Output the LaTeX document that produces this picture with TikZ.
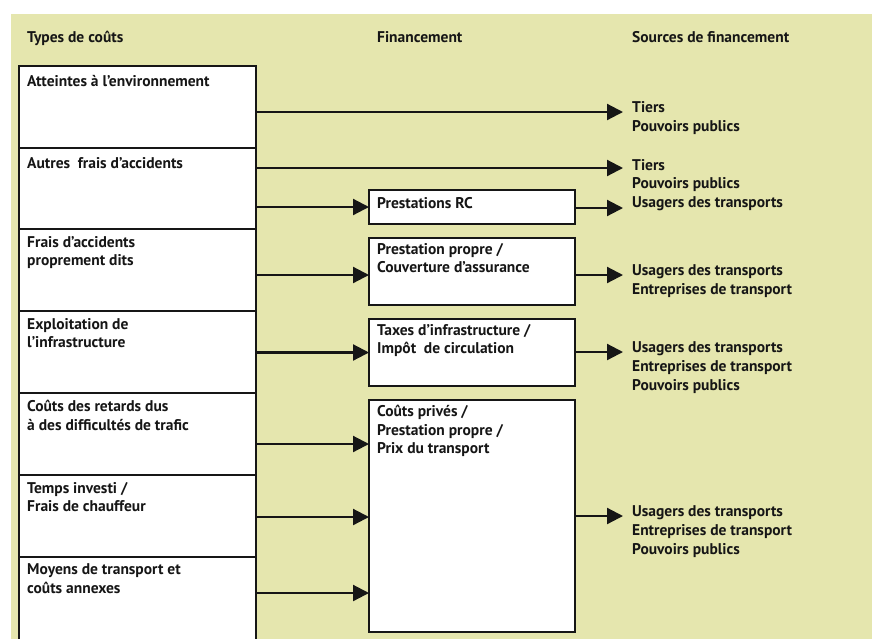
\documentclass[tikz,border=0pt]{standalone}
\usepackage{fontspec}
\setmainfont{PT Sans}
\usetikzlibrary{arrows.meta,calc}
\definecolor{panel}{RGB}{229,230,174}
\definecolor{ink}{RGB}{22,22,22}
\begin{document}
\begin{tikzpicture}[x=1pt,y=-1pt,
  % a label is placed at the baseline of its first line
  lbl/.style={font=\bfseries\fontsize{15.5}{18.8}\selectfont, text=ink, inner sep=0pt, align=left,
    anchor=north west, yshift=13.16pt, execute at begin node={\strut}},
  costbox/.style={draw=ink, fill=white, line width=2.2pt, minimum width=237pt, minimum height=82pt, anchor=north west, inner sep=0pt, outer sep=0pt},
  finbox/.style={draw=ink, fill=white, line width=2.2pt, minimum width=206pt, anchor=north west, inner sep=0pt, outer sep=0pt},
  flow/.style={draw=ink, line width=2.2pt, -{Triangle[length=16pt,width=16pt]}}
]
\useasboundingbox (0,0) rectangle (872,638);
\clip (0,0) rectangle (872,638);
\fill[panel] (11,14) rectangle (873,639);

% column headings
\node[lbl] (h1) at (27,42) {Types de coûts};
\node[lbl] (h2) at (377,42) {Financement};
\node[lbl] (h3) at (632,42) {Sources de financement};

% cost types
\node[costbox] (c1) at (19,66) {};
\node[costbox, minimum height=81pt] (c2) at (19,148) {};
\node[costbox] (c3) at (19,229) {};
\node[costbox] (c4) at (19,311) {};
\node[costbox] (c5) at (19,393) {};
\node[costbox] (c6) at (19,475) {};
\node[costbox, minimum height=86pt] (c7) at (19,557) {};

\node[lbl] (c1t) at ($(c1.north west)+(8,20)$) {Atteintes à l’environnement};
\node[lbl] (c2t) at ($(c2.north west)+(8,20)$) {Autres\hspace{0.5em}frais d’accidents};
\node[lbl] (c3t) at ($(c3.north west)+(8,20)$) {Frais d’accidents\\proprement dits};
\node[lbl] (c4t) at ($(c4.north west)+(8,20)$) {Exploitation de\\l’infrastructure};
\node[lbl] (c5t) at ($(c5.north west)+(8,20)$) {Coûts des retards dus\\à des difficultés de trafic};
\node[lbl] (c6t) at ($(c6.north west)+(8,20)$) {Temps investi /\\Frais de chauffeur};
\node[lbl] (c7t) at ($(c7.north west)+(8,20)$) {Moyens de transport et\\coûts annexes};

% financing
\node[finbox, minimum height=34pt] (m1) at (369,190) {};
\node[finbox, minimum height=67pt] (m2) at (369,238) {};
\node[finbox, minimum height=67pt] (m3) at (369,319) {};
\node[finbox, minimum height=232pt] (m4) at (369,400) {};

\node[lbl] (m1t) at ($(m1.north west)+(8,18)$) {Prestations RC};
\node[lbl] (m2t) at ($(m2.north west)+(8,18)$) {Prestation propre /\\Couverture d’assurance};
\node[lbl] (m3t) at ($(m3.north west)+(8,18)$) {Taxes d’infrastructure /\\Impôt\hspace{0.5em}de circulation};
\node[lbl] (m4t) at ($(m4.north west)+(8,18)$) {Coûts privés /\\Prestation propre /\\Prix du transport};

% sources of financing
\node[lbl] (s1) at (632,114.5) {Tiers\\Pouvoirs publics};
\node[lbl] (s2) at (632,172) {Tiers\\Pouvoirs publics\\Usagers des transports};
\node[lbl] (s4) at (632,278) {Usagers des transports\\Entreprises de transport};
\node[lbl] (s5) at (632,355) {Usagers des transports\\Entreprises de transport\\Pouvoirs publics};
\node[lbl] (s6) at (632,519) {Usagers des transports\\Entreprises de transport\\Pouvoirs publics};

\coordinate (t1) at (623,112);
\coordinate (t2) at (623,168);
\coordinate (t3) at (623,208);
\coordinate (t4) at (623,275);
\coordinate (t5) at (623,352);
\coordinate (t6) at (623,516);
\coordinate (j2) at ([yshift=-3.5pt]m2.west);
\coordinate (j5) at (369,444);
\coordinate (j6) at (369,517);
\coordinate (j7) at (369,593);

% flows
\draw[flow] (c1.east |- t1) -- (t1);
\draw[flow] (c2.east |- t2) -- (t2);
\draw[flow] (c2.east |- m1.west) -- (m1.west);
\draw[flow] (m1.east |- t3) -- (t3);
\draw[flow] (c3.east |- j2) -- (j2);
\draw[flow] (m2.east |- t4) -- (t4);
\draw[flow] (c4.east |- m3.west) -- (m3.west);
\draw[flow] (m3.east |- t5) -- (t5);
\draw[flow] (c5.east |- j5) -- (j5);
\draw[flow] (c6.east |- j6) -- (j6);
\draw[flow] (c7.east |- j7) -- (j7);
\draw[flow] (m4.east |- t6) -- (t6);
\end{tikzpicture}
\end{document}
